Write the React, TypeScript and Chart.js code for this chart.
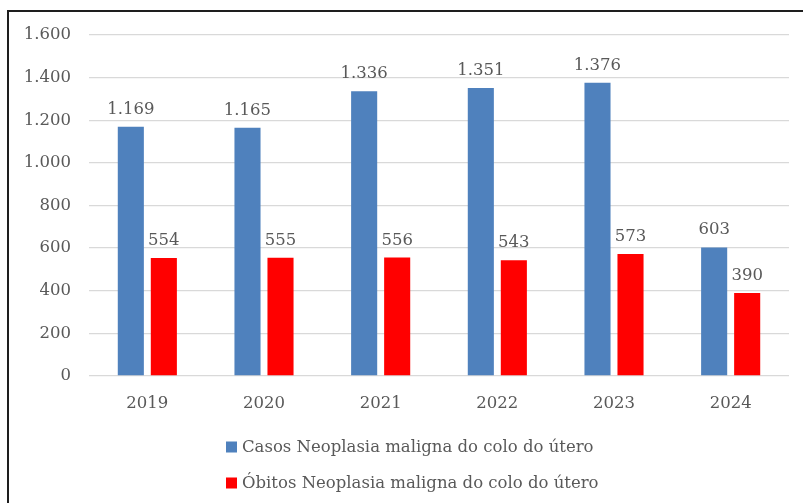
import React, { useEffect, useRef } from "react";
import { Chart, registerables } from "chart.js";

Chart.register(...registerables);

const categories = ["2019", "2020", "2021", "2022", "2023", "2024"];
const casos = [1169, 1165, 1336, 1351, 1376, 603];
const obitos = [554, 555, 556, 543, 573, 390];
const seriesNames = [
  "Casos Neoplasia maligna do colo do útero",
  "Óbitos Neoplasia maligna do colo do útero",
];
const seriesColors = ["#4F81BD", "#FF0000"];

const FONT = "'DejaVu Serif', serif";
const TEXT = "#595959";
const FS = 16.5;

function fmt(v: number): string {
  const s = Math.round(v).toString();
  return s.replace(/\B(?=(\d{3})+(?!\d))/g, ".");
}

const valueLabels = {
  id: "valueLabels",
  afterDatasetsDraw(chart: any) {
    const ctx = chart.ctx;
    ctx.save();
    ctx.font = `${FS}px ${FONT}`;
    ctx.fillStyle = TEXT;
    ctx.textAlign = "center";
    ctx.textBaseline = "alphabetic";
    chart.data.datasets.forEach((ds: any, i: number) => {
      const meta = chart.getDatasetMeta(i);
      meta.data.forEach((bar: any, j: number) => {
        ctx.fillText(fmt(ds.data[j]), bar.x, bar.y - 13);
      });
    });
    ctx.restore();
  },
};

const stackedLegend = {
  id: "stackedLegend",
  afterDraw(chart: any) {
    const ctx = chart.ctx;
    const base = chart.chartArea.bottom;
    ctx.save();
    ctx.font = `${FS}px ${FONT}`;
    ctx.textBaseline = "middle";
    ctx.textAlign = "left";
    chart.data.datasets.forEach((ds: any, i: number) => {
      const cy = base + 71 + i * 36;
      ctx.fillStyle = ds.backgroundColor;
      ctx.fillRect(226, cy - 5.5, 11, 11);
      ctx.fillStyle = TEXT;
      ctx.fillText(ds.label, 242, cy + 1);
    });
    ctx.restore();
  },
};

export default function App() {
  const ref = useRef<HTMLCanvasElement>(null);
  useEffect(() => {
    if (!ref.current) return;
    const chart = new Chart(ref.current, {
      type: "bar",
      data: {
        labels: categories,
        datasets: [
          {
            label: seriesNames[0],
            data: casos,
            backgroundColor: seriesColors[0],
            categoryPercentage: 0.566,
            barPercentage: 0.79,
          },
          {
            label: seriesNames[1],
            data: obitos,
            backgroundColor: seriesColors[1],
            categoryPercentage: 0.566,
            barPercentage: 0.79,
          },
        ],
      },
      options: {
        responsive: false,
        animation: false,
        layout: { padding: { left: 0, top: 35, right: 14, bottom: 83 } },
        plugins: {
          legend: { display: false },
          tooltip: { enabled: false },
        },
        scales: {
          x: {
            grid: { display: false, drawTicks: false },
            border: { display: false },
            ticks: {
              color: TEXT,
              font: { family: FONT, size: FS },
              padding: 18,
            },
            afterFit: (s: any) => {
              s.height = 44;
            },
          },
          y: {
            min: 0,
            max: 1600,
            ticks: {
              stepSize: 200,
              color: TEXT,
              font: { family: FONT, size: FS },
              padding: 18,
              callback: (v: any) => fmt(Number(v)),
            },
            grid: { color: "#D9D9D9", lineWidth: 1.3, drawTicks: false },
            border: { display: false },
            afterFit: (s: any) => {
              s.width = 89;
            },
          },
        },
      },
      plugins: [valueLabels, stackedLegend],
    });
    return () => chart.destroy();
  }, []);

  return (
    <div
      style={{
        position: "absolute",
        left: 0,
        top: 0,
        width: 803,
        height: 503,
        overflow: "hidden",
        background: "#fff",
      }}
    >
      <canvas
        ref={ref}
        width={803}
        height={503}
        style={{ position: "absolute", left: 0, top: 0, width: 803, height: 503 }}
      />
      <div
        style={{
          position: "absolute",
          left: 7,
          top: 10,
          width: 820,
          height: 520,
          borderTop: "2px solid #1e1e1e",
          borderLeft: "2px solid #1e1e1e",
          pointerEvents: "none",
        }}
      />
    </div>
  );
}
